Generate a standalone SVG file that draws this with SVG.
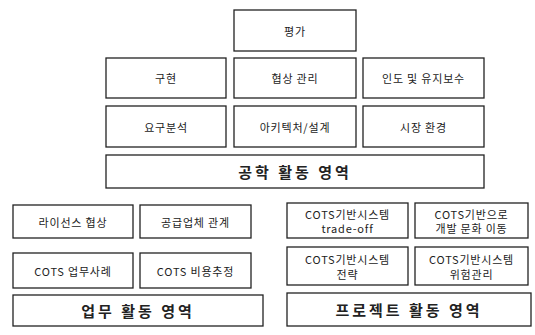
<svg xmlns="http://www.w3.org/2000/svg" width="535" height="335" viewBox="0 0 535 335">
<style>
rect{fill:#fff;stroke:#222;stroke-width:1.3}
text{font-family:"Noto Sans CJK KR","Liberation Sans",sans-serif;font-size:11px;fill:#222;text-anchor:middle;dominant-baseline:central;letter-spacing:0.8px}
.bar text{font-size:15px;font-weight:bold;letter-spacing:3px}
</style>
<rect x="0" y="0" width="535" height="335" style="fill:#fff;stroke:none"/>
<g id="n-eval"><rect x="234" y="10" width="122" height="41"/><text x="295" y="30.5">평가</text></g>
<g id="n-impl"><rect x="106" y="58" width="120" height="40"/><text x="166" y="78">구현</text></g>
<g id="n-nego"><rect x="234" y="58" width="122" height="40"/><text x="295" y="78">협상 관리</text></g>
<g id="n-maint"><rect x="363" y="58" width="121" height="40"/><text x="423.5" y="78">인도 및 유지보수</text></g>
<g id="n-req"><rect x="106" y="106" width="120" height="41"/><text x="166" y="126.5">요구분석</text></g>
<g id="n-arch"><rect x="234" y="106" width="122" height="41"/><text x="295" y="126.5">아키텍처/설계</text></g>
<g id="n-market"><rect x="363" y="106" width="121" height="41"/><text x="423.5" y="126.5">시장 환경</text></g>
<g id="n-eng" class="bar"><rect x="106" y="155" width="378" height="33"/><text x="295" y="171.5">공학 활동 영역</text></g>
<g id="n-lic"><rect x="13" y="205" width="120" height="33"/><text x="73" y="221.5">라이선스 협상</text></g>
<g id="n-sup"><rect x="140" y="205" width="111" height="33"/><text x="195.5" y="221.5">공급업체 관계</text></g>
<g id="n-case"><rect x="13" y="253" width="120" height="35"/><text x="73" y="270.5">COTS 업무사례</text></g>
<g id="n-cost"><rect x="140" y="253" width="111" height="35"/><text x="195.5" y="270.5">COTS 비용추정</text></g>
<g id="n-biz" class="bar"><rect x="13" y="295" width="250" height="31"/><text x="138" y="310.5">업무 활동 영역</text></g>
<g id="n-trade"><rect x="287" y="203" width="121" height="35"/><text x="347.5" y="213.5">COTS기반시스템</text><text x="347.5" y="228">trade-off</text></g>
<g id="n-culture"><rect x="415" y="203" width="113" height="35"/><text x="471.5" y="213.5">COTS기반으로</text><text x="471.5" y="228">개발 문화 이동</text></g>
<g id="n-strat"><rect x="287" y="247" width="121" height="38"/><text x="347.5" y="258.5">COTS기반시스템</text><text x="347.5" y="274">전략</text></g>
<g id="n-risk"><rect x="415" y="247" width="113" height="38"/><text x="471.5" y="258.5">COTS기반시스템</text><text x="471.5" y="274">위험관리</text></g>
<g id="n-proj" class="bar"><rect x="287" y="293" width="244" height="33"/><text x="409" y="309.5">프로젝트 활동 영역</text></g>
<g id="connectors"></g>
</svg>
